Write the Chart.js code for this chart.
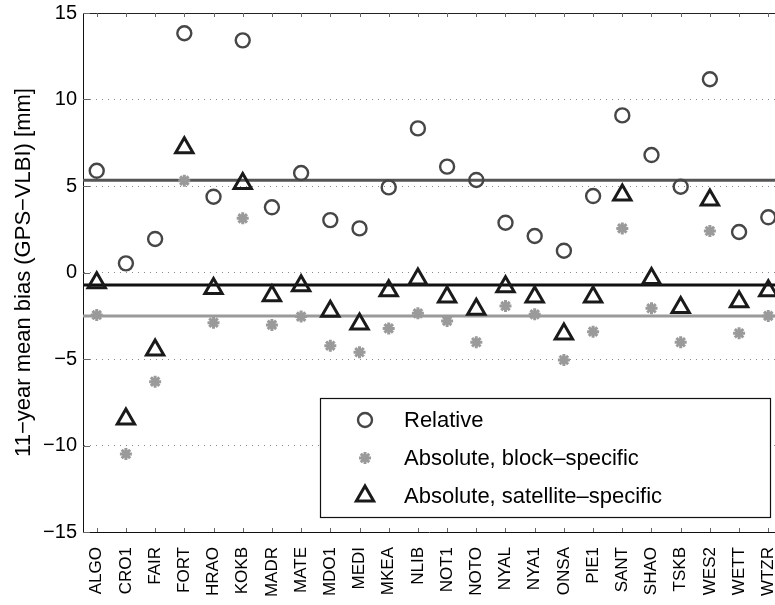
<!DOCTYPE html>
<html>
<head>
<meta charset="utf-8">
<script src="https://cdn.jsdelivr.net/npm/chart.js@4.4.0/dist/chart.umd.min.js"></script>
<style>
  html, body { margin: 0; padding: 0; background: #fff; overflow: hidden; }
</style>
</head>
<body>
<canvas id="grafico" width="775" height="605"></canvas>
<script>
const stations = ['ALGO', 'CRO1', 'FAIR', 'FORT', 'HRAO', 'KOKB', 'MADR', 'MATE', 'MDO1', 'MEDI', 'MKEA', 'NLIB',
  'NOT1', 'NOTO', 'NYAL', 'NYA1', 'ONSA', 'PIE1', 'SANT', 'SHAO', 'TSKB', 'WES2', 'WETT', 'WTZR'];
const relative = [5.88, 0.53, 1.94, 13.83, 4.38, 13.42, 3.77, 5.75, 3.03, 2.55, 4.92, 8.33,
  6.12, 5.35, 2.88, 2.11, 1.26, 4.42, 9.08, 6.79, 4.96, 11.17, 2.34, 3.19];
const blockSpecific = [-2.46, -10.49, -6.31, 5.31, -2.90, 3.13, -3.03, -2.55, -4.23, -4.61, -3.23, -2.36,
  -2.80, -4.03, -1.94, -2.42, -5.06, -3.42, 2.55, -2.07, -4.03, 2.40, -3.51, -2.51];
const satSpecific = [-0.59, -8.47, -4.48, 7.21, -0.92, 5.15, -1.34, -0.76, -2.24, -2.98, -1.05, -0.38,
  -1.42, -2.13, -0.82, -1.42, -3.55, -1.42, 4.48, -0.34, -2.03, 4.19, -1.69, -1.05];
const means = [5.33, -2.51, -0.72];
const yTicks = [-15, -10, -5, 0, 5, 10, 15];
const xMin = 0.53, xMax = 24.23;

const fontFam = "'Liberation Sans', Arial, sans-serif";
const minus = v => v < 0 ? '\u2212' + Math.abs(v) : String(v);

const pts = arr => arr.map((v, i) => ({ x: i + 1, y: v }));
const hline = v => [{ x: xMin, y: v }, { x: xMax, y: v }];

const series = [
  { label: 'Relative', data: relative, style: 'circle', radius: 7, width: 2.4, color: '#464646' },
  { label: 'Absolute, block\u2013specific', data: blockSpecific, style: 'star', radius: 6, width: 3, color: '#9a9a9a' },
  { label: 'Absolute, satellite\u2013specific', data: satSpecific, style: 'triangle', radius: 10, width: 3, color: '#1a1a1a' }
];
const lineColors = ['#555555', '#9a9a9a', '#111111'];

const datasets = series.map(s => ({
  type: 'scatter',
  label: s.label,
  data: pts(s.data),
  pointStyle: s.style,
  pointRadius: s.radius,
  pointBorderWidth: s.width,
  pointBorderColor: s.color,
  pointBackgroundColor: 'rgba(0,0,0,0)',
  showLine: false
}));
series.forEach((s, i) => datasets.push({
  type: 'line',
  label: 'mean ' + s.label,
  data: hline(means[i]),
  borderColor: lineColors[i],
  borderWidth: 3,
  pointRadius: 0,
  fill: false
}));

// top frame, inward ticks and the legend box
const framePlugin = {
  id: 'frame',
  afterDraw(chart) {
    const { ctx, chartArea: a, scales: { x, y } } = chart;
    ctx.save();
    ctx.strokeStyle = '#222';
    ctx.lineWidth = 1;
    ctx.beginPath();
    ctx.moveTo(a.left, a.top + 0.5);
    ctx.lineTo(a.right, a.top + 0.5);
    ctx.stroke();
    ctx.strokeStyle = '#666';
    ctx.beginPath();
    stations.forEach((s, i) => {
      const px = Math.round(x.getPixelForValue(i + 1)) + 0.5;
      ctx.moveTo(px, a.top); ctx.lineTo(px, a.top + 4);
      ctx.moveTo(px, a.bottom); ctx.lineTo(px, a.bottom - 4);
    });
    yTicks.forEach(v => {
      const py = Math.round(y.getPixelForValue(v)) + 0.5;
      ctx.moveTo(a.left, py); ctx.lineTo(a.left + 7, py);
    });
    ctx.stroke();

    // legend
    const bx = 320, by = 398, bw = 450, bh = 119;
    ctx.fillStyle = '#fff';
    ctx.fillRect(bx, by, bw, bh);
    ctx.strokeStyle = '#111';
    ctx.lineWidth = 1.2;
    ctx.strokeRect(bx + 0.5, by + 0.5, bw, bh);
    const rows = [420, 458, 496];
    ctx.font = '22px ' + fontFam;
    ctx.textBaseline = 'middle';
    series.forEach((s, i) => {
      const mx = 365, my = rows[i];
      ctx.strokeStyle = s.color;
      ctx.lineWidth = s.width;
      ctx.beginPath();
      if (s.style === 'circle') {
        ctx.arc(mx, my, s.radius, 0, Math.PI * 2);
      } else if (s.style === 'star') {
        for (let k = 0; k < 4; k++) {
          const ang = k * Math.PI / 4;
          ctx.moveTo(mx - Math.cos(ang) * s.radius, my - Math.sin(ang) * s.radius);
          ctx.lineTo(mx + Math.cos(ang) * s.radius, my + Math.sin(ang) * s.radius);
        }
      } else {
        const r = s.radius;
        ctx.moveTo(mx, my - r);
        ctx.lineTo(mx + r * Math.sin(Math.PI / 3), my + r / 2);
        ctx.lineTo(mx - r * Math.sin(Math.PI / 3), my + r / 2);
        ctx.closePath();
      }
      ctx.stroke();
      ctx.fillStyle = '#000';
      ctx.fillText(s.label, 404, my + 1);
    });
    ctx.restore();
  }
};

new Chart(document.getElementById('grafico'), {
  type: 'scatter',
  data: { datasets },
  options: {
    responsive: false,
    animation: false,
    layout: { autoPadding: false, padding: { top: 13, right: 0, left: 0, bottom: 0 } },
    plugins: { legend: { display: false }, tooltip: { enabled: false } },
    scales: {
      x: {
        type: 'linear',
        min: xMin,
        max: xMax,
        afterBuildTicks: ax => { ax.ticks = stations.map((s, i) => ({ value: i + 1 })); },
        afterFit: ax => { ax.height = 73; ax.paddingLeft = 0; ax.paddingRight = 0; },
        grid: { color: 'rgba(0,0,0,0)', drawTicks: false },
        border: { display: true, color: '#111', width: 1 },
        ticks: {
          autoSkip: false,
          minRotation: 90,
          maxRotation: 90,
          padding: 15,
          color: '#000',
          font: { family: fontFam, size: 17 },
          callback: v => stations[Math.round(v) - 1] || ''
        }
      },
      y: {
        min: -15,
        max: 15,
        afterBuildTicks: ax => { ax.ticks = yTicks.map(v => ({ value: v })); },
        afterFit: ax => { ax.width = 83; ax.paddingTop = 0; ax.paddingBottom = 0; },
        grid: {
          drawTicks: false,
          lineWidth: 1,
          color: c => (Math.abs(c.tick.value) === 15 ? 'rgba(0,0,0,0)' : '#8a8a8a')
        },
        border: { display: true, color: '#111', width: 1, dash: [1, 5] },
        ticks: {
          padding: 6,
          color: '#000',
          font: { family: fontFam, size: 20 },
          callback: v => minus(v)
        },
        title: {
          display: true,
          text: '11\u2212year mean bias (GPS\u2212VLBI) [mm]',
          color: '#000',
          font: { family: fontFam, size: 22 },
          padding: { top: 11, bottom: 0 }
        }
      }
    }
  },
  plugins: [framePlugin]
});
</script>
</body>
</html>
